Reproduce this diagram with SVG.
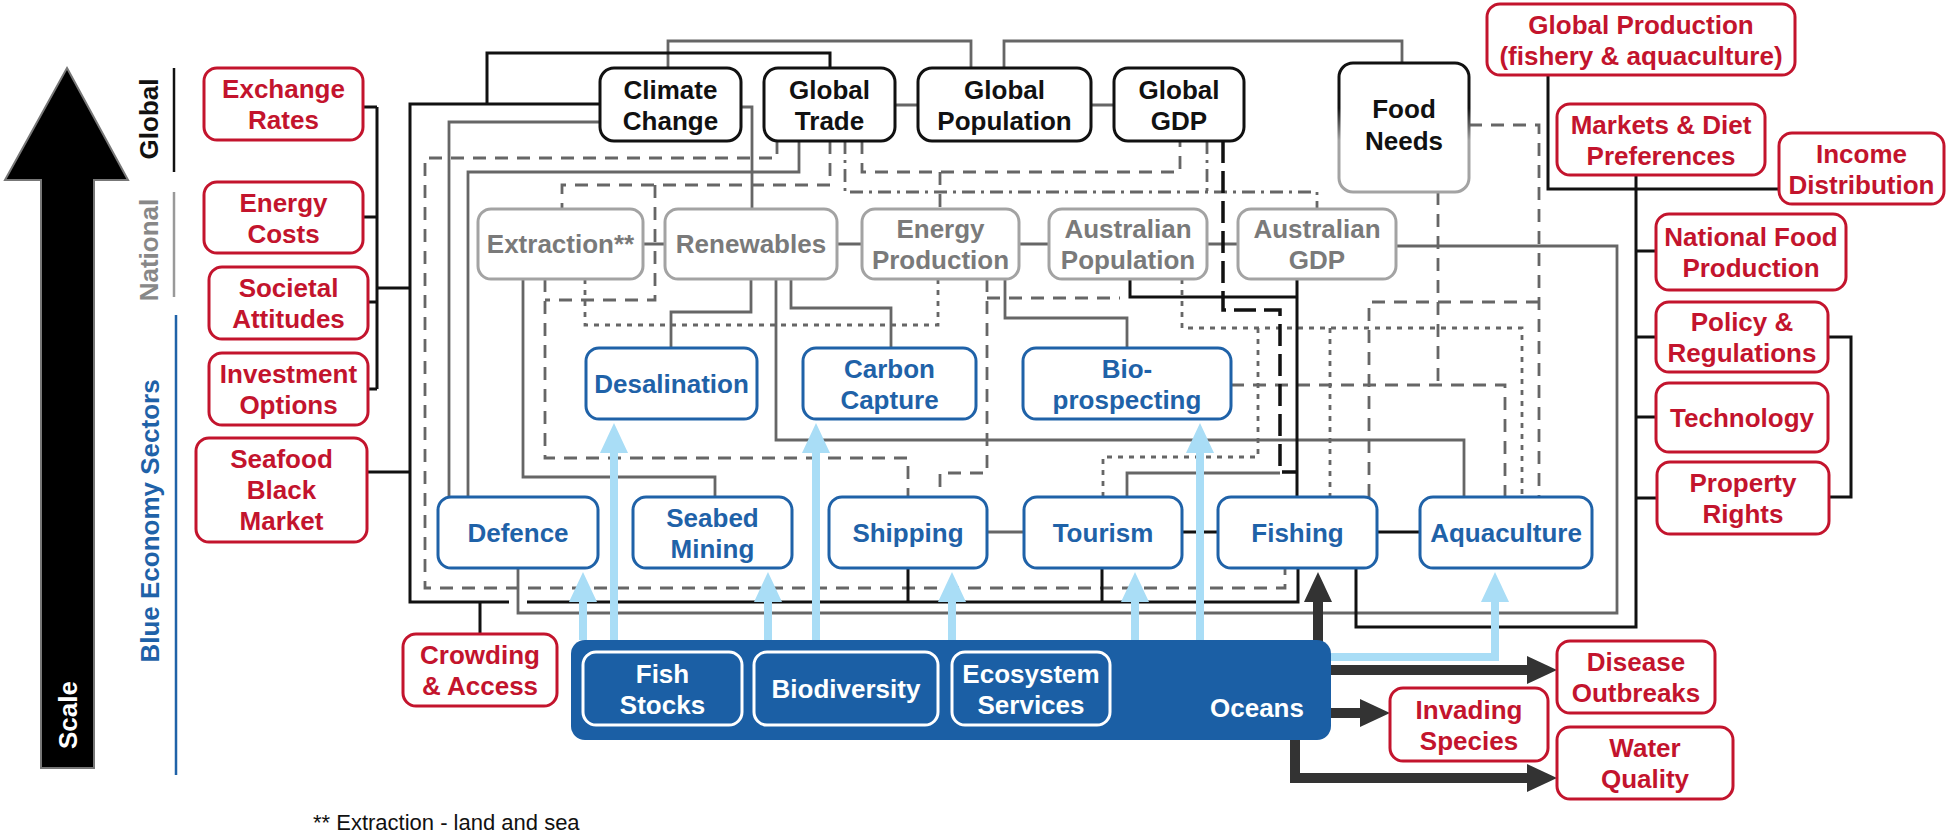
<svg xmlns="http://www.w3.org/2000/svg" width="1950" height="839" viewBox="0 0 1950 839">
<defs>
<style>
text{font-family:"Liberation Sans",Arial,Helvetica,sans-serif;font-weight:bold;font-size:26px;text-anchor:middle}
.rn rect{fill:#fff;stroke:#c3142d;stroke-width:3}
.rn text{fill:#c3142d}
.kn rect{fill:#fff;stroke:#111;stroke-width:3}
.kn text{fill:#111}
.gn rect{fill:#fff;stroke:#a3a3a3;stroke-width:3}
.gn text{fill:#7a7a7a}
.bn rect{fill:#fff;stroke:#1f62a8;stroke-width:3}
.bn text{fill:#1f62a8}
.on rect{fill:#1b5fa5;stroke:#fff;stroke-width:3}
.on text{fill:#fff}
.c path{fill:none;stroke-linejoin:miter}
.k{stroke:#111;stroke-width:3}
.g{stroke:#666;stroke-width:2.8}
.d{stroke:#666;stroke-width:2.8;stroke-dasharray:13 9}
.o{stroke:#666;stroke-width:2.8;stroke-dasharray:5 6}
.dd{stroke:#666;stroke-width:2.8;stroke-dasharray:13 6 3 6}
.kl{stroke:#111;stroke-width:3.5;stroke-dasharray:22 8}
.lb{stroke:#a9ddf6;stroke-width:8}
.dk{stroke:#333;stroke-width:10}
</style>
<marker id="mlb" viewBox="0 0 30 28" refX="0" refY="14" markerWidth="30" markerHeight="28" markerUnits="userSpaceOnUse" orient="auto"><path d="M0,0 L30,14 L0,28 z" fill="#a9ddf6"/></marker>
<marker id="mdk" viewBox="0 0 30 28" refX="0" refY="14" markerWidth="30" markerHeight="28" markerUnits="userSpaceOnUse" orient="auto"><path d="M0,0 L30,14 L0,28 z" fill="#333"/></marker>
<linearGradient id="fng" x1="0" y1="0" x2="0" y2="1"><stop offset="0.35" stop-color="#111"/><stop offset="0.6" stop-color="#a3a3a3"/></linearGradient>
</defs>
<rect width="1950" height="839" fill="#fff"/>

<g id="scale">
<polygon points="67,68 128,180 94,180 94,768 41,768 41,180 5,180" fill="#000" stroke="#777" stroke-width="2"/>
<text transform="translate(77,715) rotate(-90)" fill="#fff">Scale</text>
</g>
<g id="levels">
<path d="M174,68 V172" stroke="#111" stroke-width="2.5"/>
<path d="M174,192 V297" stroke="#999" stroke-width="2.5"/>
<path d="M176,315 V775" stroke="#1f62a8" stroke-width="2.5"/>
<text transform="translate(158,119) rotate(-90)" font-size="25" fill="#111">Global</text>
<text transform="translate(158,250) rotate(-90)" font-size="25" fill="#888">National</text>
<text transform="translate(159,521) rotate(-90)" font-size="25" fill="#1f62a8">Blue Economy Sectors</text>
</g>

<g id="connectors" class="c">
<path class="g" d="M668,68 V41 H971 V68 M1004,68 V41 H1402 V63 M895,105 H918 M1091,105 H1114 M741,107 H752 V209 M600,122 H449 V497 M799,141 V172 H468 V497 M643,244 H665 M837,244 H862 M1019,244 H1049 M1207,244 H1238 M751,279 V312 H671 V348 M776,279 V440 H1464 V497 M791,279 V308 H891 V348 M523,279 V477 H715 V497 M1005,279 V318 H1127 V348 M987,532 H1024 M1127,497 V473 H1280 M518,568 V613 H1617 V246 H1395"/>
<path class="d" d="M777,141 V158 H425 V588 H1285 V568 M830,141 V185 H562 V209 M655,185 V300 H545 M545,279 V458 H908 V497 M862,141 V172 H1180 V141 M940,172 V209 M987,279 V473 H940 V497 M987,298 H1120 M1469,125 H1539 V497 M1539,302 H1369 V497 M1438,192 V385 M1231,385 H1505 V497"/>
<path class="o" d="M585,279 V325 H938 V279 M1182,279 V328 H1522 V497 M1258,328 V457 H1103 V497 M1330,328 V497"/>
<path class="dd" d="M845,141 V192 H1317 V209 M1207,141 V192"/>
<path class="kl" d="M1223,141 V310 H1280 V472 H1297"/>
<path class="k" d="M363,107 H377 M363,217 H377 M368,302 H377 M368,389 H377 M377,107 V389 M377,288 H410 M600,104 H410 V602 H509 M527,602 H1298 V568 M487,104 V53 H830 V68 M367,472 H410 M480,602 V634 M908,568 V602 M1102,568 V602 M1182,532 H1218 M1377,532 H1420 M1130,279 V297 H1297 M1297,279 V497 M1356,568 V627 H1636 V175 M1548,75 V189 H1779 M1636,251 H1656 M1636,337 H1656 M1636,417 H1656 M1636,498 H1657 M1828,337 H1851 V497 H1829"/>
<path class="lb" marker-end="url(#mlb)" d="M583,640 V602"/>
<path class="lb" marker-end="url(#mlb)" d="M614,640 V453"/>
<path class="lb" marker-end="url(#mlb)" d="M768,640 V602"/>
<path class="lb" marker-end="url(#mlb)" d="M816,640 V453"/>
<path class="lb" marker-end="url(#mlb)" d="M952,640 V602"/>
<path class="lb" marker-end="url(#mlb)" d="M1135,640 V602"/>
<path class="lb" marker-end="url(#mlb)" d="M1200,640 V453"/>
<path class="lb" marker-end="url(#mlb)" d="M1325,657 H1495 V602"/>
<path class="dk" marker-end="url(#mdk)" d="M1318,645 V602"/>
<path class="dk" marker-end="url(#mdk)" d="M1325,670 H1527"/>
<path class="dk" marker-end="url(#mdk)" d="M1325,713 H1360"/>
<path class="dk" marker-end="url(#mdk)" d="M1295,735 V778 H1527"/>
</g>

<g id="exchange-rates" class="rn"><rect x="204" y="68" width="159" height="72" rx="13"/><text x="283.5" y="98">Exchange</text><text x="283.5" y="129">Rates</text></g>
<g id="energy-costs" class="rn"><rect x="204" y="182" width="159" height="71" rx="13"/><text x="283.5" y="211.5">Energy</text><text x="283.5" y="242.5">Costs</text></g>
<g id="societal-attitudes" class="rn"><rect x="209" y="267" width="159" height="72" rx="13"/><text x="288.5" y="297">Societal</text><text x="288.5" y="328">Attitudes</text></g>
<g id="investment-options" class="rn"><rect x="209" y="353" width="159" height="72" rx="13"/><text x="288.5" y="383">Investment</text><text x="288.5" y="414">Options</text></g>
<g id="seafood-black-market" class="rn"><rect x="196" y="438" width="171" height="104" rx="13"/><text x="281.5" y="468">Seafood</text><text x="281.5" y="499">Black</text><text x="281.5" y="530">Market</text></g>
<g id="crowding-access" class="rn"><rect x="403" y="634" width="154" height="72" rx="13"/><text x="480" y="664">Crowding</text><text x="480" y="695">&amp; Access</text></g>
<g id="global-production" class="rn"><rect x="1487" y="4" width="308" height="71" rx="13"/><text x="1641" y="33.5">Global Production</text><text x="1641" y="64.5">(fishery &amp; aquaculture)</text></g>
<g id="markets-diet" class="rn"><rect x="1557" y="104" width="208" height="71" rx="13"/><text x="1661" y="133.5">Markets &amp; Diet</text><text x="1661" y="164.5">Preferences</text></g>
<g id="income-distribution" class="rn"><rect x="1779" y="133" width="165" height="71" rx="13"/><text x="1861.5" y="162.5">Income</text><text x="1861.5" y="193.5">Distribution</text></g>
<g id="national-food-production" class="rn"><rect x="1656" y="214" width="190" height="76" rx="13"/><text x="1751" y="246">National Food</text><text x="1751" y="277">Production</text></g>
<g id="policy-regulations" class="rn"><rect x="1656" y="302" width="172" height="70" rx="13"/><text x="1742" y="331">Policy &amp;</text><text x="1742" y="362">Regulations</text></g>
<g id="technology" class="rn"><rect x="1656" y="383" width="172" height="69" rx="13"/><text x="1742" y="426.5">Technology</text></g>
<g id="property-rights" class="rn"><rect x="1657" y="462" width="172" height="72" rx="13"/><text x="1743" y="492">Property</text><text x="1743" y="523">Rights</text></g>
<g id="disease-outbreaks" class="rn"><rect x="1557" y="641" width="158" height="72" rx="13"/><text x="1636" y="671">Disease</text><text x="1636" y="702">Outbreaks</text></g>
<g id="invading-species" class="rn"><rect x="1390" y="688" width="158" height="73" rx="13"/><text x="1469" y="718.5">Invading</text><text x="1469" y="749.5">Species</text></g>
<g id="water-quality" class="rn"><rect x="1557" y="727" width="176" height="72" rx="13"/><text x="1645" y="757">Water</text><text x="1645" y="788">Quality</text></g>

<g id="climate-change" class="kn"><rect x="600" y="68" width="141" height="73" rx="14"/><text x="670.5" y="98.5">Climate</text><text x="670.5" y="129.5">Change</text></g>
<g id="global-trade" class="kn"><rect x="764" y="68" width="131" height="73" rx="14"/><text x="829.5" y="98.5">Global</text><text x="829.5" y="129.5">Trade</text></g>
<g id="global-population" class="kn"><rect x="918" y="68" width="173" height="73" rx="14"/><text x="1004.5" y="98.5">Global</text><text x="1004.5" y="129.5">Population</text></g>
<g id="global-gdp" class="kn"><rect x="1114" y="68" width="130" height="73" rx="14"/><text x="1179" y="98.5">Global</text><text x="1179" y="129.5">GDP</text></g>
<g id="food-needs" class="kn"><rect x="1339" y="63" width="130" height="129" rx="14" style="stroke:url(#fng)"/><text x="1404" y="118">Food</text><text x="1404" y="150">Needs</text></g>

<g id="extraction" class="gn"><rect x="478" y="209" width="165" height="70" rx="13"/><text x="560.5" y="253">Extraction**</text></g>
<g id="renewables" class="gn"><rect x="665" y="209" width="172" height="70" rx="13"/><text x="751" y="253">Renewables</text></g>
<g id="energy-production" class="gn"><rect x="862" y="209" width="157" height="70" rx="13"/><text x="940.5" y="238">Energy</text><text x="940.5" y="269">Production</text></g>
<g id="australian-population" class="gn"><rect x="1049" y="209" width="158" height="70" rx="13"/><text x="1128" y="238">Australian</text><text x="1128" y="269">Population</text></g>
<g id="australian-gdp" class="gn"><rect x="1238" y="209" width="158" height="70" rx="13"/><text x="1317" y="238">Australian</text><text x="1317" y="269">GDP</text></g>

<g id="desalination" class="bn"><rect x="586" y="348" width="171" height="71" rx="13"/><text x="671.5" y="392.5">Desalination</text></g>
<g id="carbon-capture" class="bn"><rect x="803" y="348" width="173" height="71" rx="13"/><text x="889.5" y="377.5">Carbon</text><text x="889.5" y="408.5">Capture</text></g>
<g id="bio-prospecting" class="bn"><rect x="1023" y="348" width="208" height="71" rx="13"/><text x="1127" y="377.5">Bio-</text><text x="1127" y="408.5">prospecting</text></g>
<g id="defence" class="bn"><rect x="438" y="497" width="160" height="71" rx="13"/><text x="518" y="541.5">Defence</text></g>
<g id="seabed-mining" class="bn"><rect x="633" y="497" width="159" height="71" rx="13"/><text x="712.5" y="526.5">Seabed</text><text x="712.5" y="557.5">Mining</text></g>
<g id="shipping" class="bn"><rect x="829" y="497" width="158" height="71" rx="13"/><text x="908" y="541.5">Shipping</text></g>
<g id="tourism" class="bn"><rect x="1024" y="497" width="158" height="71" rx="13"/><text x="1103" y="541.5">Tourism</text></g>
<g id="fishing" class="bn"><rect x="1218" y="497" width="159" height="71" rx="13"/><text x="1297.5" y="541.5">Fishing</text></g>
<g id="aquaculture" class="bn"><rect x="1420" y="497" width="172" height="71" rx="13"/><text x="1506" y="541.5">Aquaculture</text></g>

<g id="oceans" class="on">
<rect x="571" y="640" width="760" height="100" rx="14" style="stroke:none"/>
<text x="1257" y="717">Oceans</text>
</g>
<g id="fish-stocks" class="on"><rect x="583" y="652" width="159" height="73" rx="13"/><text x="662.5" y="682.5" font-size="25">Fish</text><text x="662.5" y="713.5" font-size="25">Stocks</text></g>
<g id="biodiversity" class="on"><rect x="754" y="652" width="184" height="73" rx="13"/><text x="846" y="697.5" font-size="25">Biodiversity</text></g>
<g id="ecosystem-services" class="on"><rect x="952" y="652" width="158" height="73" rx="13"/><text x="1031" y="682.5" font-size="25">Ecosystem</text><text x="1031" y="713.5" font-size="25">Services</text></g>

<text x="313" y="830" style="font-weight:normal;font-size:22px;text-anchor:start" fill="#111">** Extraction - land and sea</text>
</svg>
